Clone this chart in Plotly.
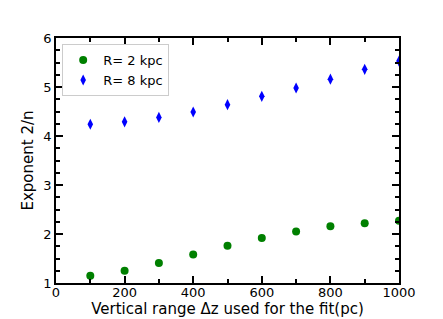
import plotly.graph_objects as go

dz = [100, 200, 300, 400, 500, 600, 700, 800, 900, 1000]
r2_values = [1.15, 1.25, 1.41, 1.58, 1.76, 1.92, 2.05, 2.16, 2.22, 2.27]
r8_values = [4.24, 4.29, 4.38, 4.49, 4.64, 4.81, 4.98, 5.16, 5.36, 5.53]
x_ticks = [0, 200, 400, 600, 800, 1000]
y_ticks = [1, 2, 3, 4, 5, 6]

font = "DejaVu Sans"

fig = go.Figure()
fig.add_trace(go.Scatter(x=dz, y=r2_values, mode="markers", name="R= 2 kpc",
                         marker=dict(symbol="circle", size=8, color="green")))
fig.add_trace(go.Scatter(x=dz, y=r8_values, mode="markers", name="R= 8 kpc",
                         marker=dict(symbol="diamond-tall", size=8, color="blue")))

axis_common = dict(showgrid=False, zeroline=False, showline=True, linecolor="black",
                   linewidth=1.5, mirror="allticks", ticks="inside", ticklen=7,
                   tickwidth=1.5, tickcolor="black", automargin=False,
                   tickfont=dict(family=font, size=13, color="black"))

fig.update_xaxes(range=[0, 1000], tickvals=x_ticks, ticktext=[str(v) for v in x_ticks],
                 minor=dict(dtick=100, tick0=0, ticks="inside", ticklen=4, tickwidth=1.5, tickcolor="black"),
                 title=dict(text="Vertical range Δz used for the fit(pc)",
                            font=dict(family=font, size=15, color="black"), standoff=0),
                 ticklabelstandoff=-3,
                 **axis_common)
fig.update_yaxes(range=[1, 6], tickvals=y_ticks, ticktext=[str(v) for v in y_ticks],
                 minor=dict(dtick=0.25, tick0=1, ticks="inside", ticklen=4, tickwidth=1.5, tickcolor="black"),
                 title=dict(text="Exponent 2/n", font=dict(family=font, size=15, color="black"), standoff=6),
                 **axis_common)

fig.update_layout(
    width=435, height=311,
    margin=dict(l=48, r=44, t=30, b=36),
    paper_bgcolor="white", plot_bgcolor="white",
    showlegend=True,
    legend=dict(x=0.018, y=0.975, xanchor="left", yanchor="top",
                bgcolor="white", bordercolor="#cccccc", borderwidth=1,
                font=dict(family=font, size=13, color="black"),
                itemwidth=30, tracegroupgap=2),
)

fig.write_html("out.html")
